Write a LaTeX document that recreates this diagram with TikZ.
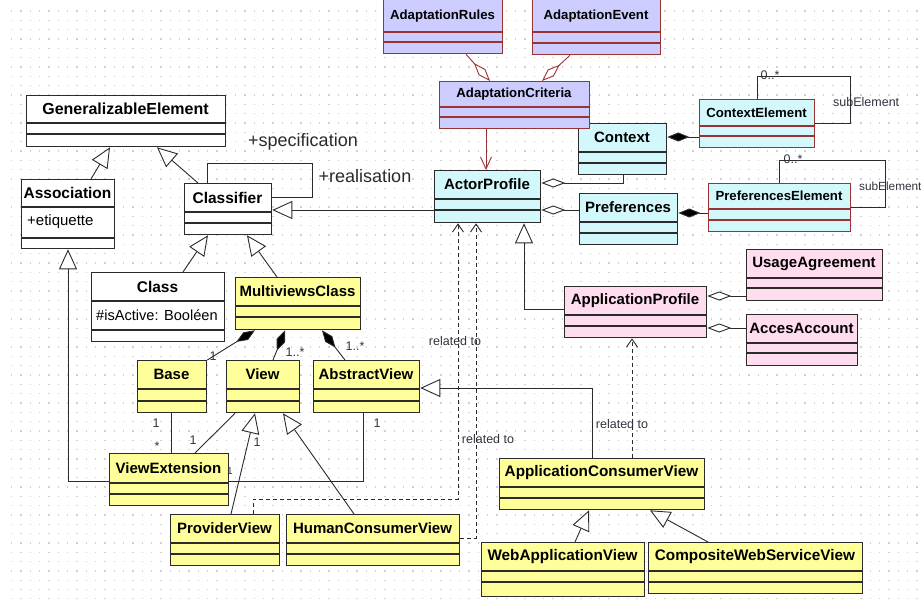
\documentclass[tikz,border=0pt]{standalone}
\usepackage{fontspec}
\setmainfont{Liberation Sans}
\usetikzlibrary{arrows.meta}

\definecolor{umlyellow}{HTML}{FFFF99}
\definecolor{umlcyan}{HTML}{D2F8FC}
\definecolor{umlpurple}{HTML}{CCCCFF}
\definecolor{umlpink}{HTML}{FFDDEE}
\definecolor{umlred}{HTML}{993333}
\definecolor{ink}{HTML}{2B2B2B}
\definecolor{labelink}{HTML}{333340}

% A class box: outer frame plus two compartment rules
% #1 style, #2 name, #3/#4 top-left, #5/#6 bottom-right, #7/#8 rule heights
\newcommand\umlclass[8][]{%
  \node[box,#1,minimum width={#5-#3},minimum height={#6-#4},anchor=north west] (#2) at (#3,#4) {};
  \draw[box,#1,fill=none] (#2.west |- 0,#7) -- (#2.east |- 0,#7)
                          (#2.west |- 0,#8) -- (#2.east |- 0,#8);
}

\begin{document}
\begin{tikzpicture}[x=1pt,y=-1pt,
  box/.style={draw=ink,line width=1.3pt,inner sep=0pt,fill=white},
  whitebox/.style={fill=white,draw=ink},
  yel/.style={fill=umlyellow,draw=ink},
  pink/.style={fill=umlpink,draw=ink},
  cyan/.style={fill=umlcyan,draw=ink},
  cyanred/.style={fill=umlcyan,draw=umlred},
  purp/.style={fill=umlpurple,draw=umlred},
  ttl/.style={inner sep=0pt,text=black,font=\bfseries\fontsize{15}{15}\selectfont},
  ttlbig/.style={ttl,font=\bfseries\fontsize{15.5}{15.5}\selectfont},
  ttlsmall/.style={ttl,font=\bfseries\fontsize{13.2}{13.2}\selectfont},
  attr/.style={inner sep=0pt,anchor=west,text=black,font=\fontsize{14.6}{14.6}\selectfont},
  lbl/.style={inner sep=0pt,text=labelink,font=\fontsize{12.5}{12.5}\selectfont},
  role/.style={inner sep=0pt,text=ink,font=\fontsize{18}{18}\selectfont},
  conn/.style={draw=ink,line width=0.9pt},
  gen/.style={conn,-{Triangle[fill=white,length=20pt,width=18pt]}},
  agg/.style={conn,-{Diamond[fill=white,length=24pt,width=9pt]}},
  comp/.style={conn,-{Diamond[fill=black,length=22pt,width=9pt]}},
  dep/.style={conn,dash pattern=on 4pt off 3pt,-{Straight Barb[length=8pt,width=11pt]}},
  redagg/.style={agg,draw=umlred},
  rednav/.style={conn,draw=umlred,-{Straight Barb[length=12pt,width=11pt]}},
  dotrow/.style={draw=black!18,line width=1.4pt,dash pattern=on 1.4pt off 7.933pt}
]
\useasboundingbox (0,0) rectangle (921,599);
\fill[white] (0,0) rectangle (921,599);

% dotted drawing grid
\foreach \k in {0,...,63}
  \draw[dotrow] (11,{11+9.333*\k}) -- (921,{11+9.333*\k});

% ---- metamodel classes
\umlclass[whitebox]{ge}{26}{95}{225}{146}{123}{134}
\umlclass[whitebox]{assoc}{21}{179}{114}{248}{207}{238}
\umlclass[whitebox]{clsf}{184}{183}{271}{234}{212}{223}
\umlclass[whitebox]{cls}{91}{272}{224}{341}{301}{330}

% ---- views
\umlclass[yel]{mvc}{235}{277}{360}{329}{306}{317}
\umlclass[yel]{base}{137}{360}{206}{412}{389}{401}
\umlclass[yel]{view}{226}{360}{299}{412}{389}{401}
\umlclass[yel]{abst}{313}{360}{419}{412}{389}{401}
\umlclass[yel]{vext}{109}{453}{228}{505}{483}{494}
\umlclass[yel]{prov}{170}{514}{279}{565}{543}{554}
\umlclass[yel]{hcv}{286}{514}{459}{565}{543}{554}
\umlclass[yel]{acv}{499}{458}{704}{509}{487}{498}
\umlclass[yel]{wav}{481}{542}{644}{596}{571}{582}
\umlclass[yel]{cwsv}{648}{542}{862}{593}{571}{582}

% ---- application profile
\umlclass[pink]{ap}{564}{286}{706}{337}{315}{326}
\umlclass[pink]{ua}{746}{249}{882}{300}{278}{288}
\umlclass[pink]{aa}{746}{314}{857}{365}{343}{353}

% ---- actor profile and context
\umlclass[cyan]{actor}{434}{170}{540}{222}{199}{210}
\umlclass[cyan]{ctx}{578}{123}{666}{174}{152}{163}
\umlclass[cyan]{pref}{579}{193}{677}{244}{222}{233}
\umlclass[cyanred]{ce}{699}{99}{814}{147}{126}{136}
\umlclass[cyanred]{pe}{708}{183}{850}{231}{209}{220}

% ---- adaptation
\umlclass[purp]{ar}{383}{-2}{502}{53}{32}{42}
\umlclass[purp]{ae}{532}{-2}{660}{54}{32}{43}
\umlclass[purp]{ac}{439}{81}{589}{128}{107}{117}

% ---- class names and attributes
\node[ttl,font=\bfseries\fontsize{16}{16}\selectfont] (ge-t) at (125.5,109) {GeneralizableElement};
\node[ttlbig] (assoc-t) at (67.5,193) {Association};
\node[attr,font=\fontsize{15}{15}\selectfont] (assoc-a) at (27,222) {+etiquette};
\node[ttlbig] (clsf-t) at (227.5,197.5) {Classifier};
\node[ttlbig] (cls-t) at (157.5,286.5) {Class};
\node[attr] (cls-a) at (96,315.5) {\#isActive: Booléen};

\node[ttl] (mvc-t) at (297.5,291.5) {MultiviewsClass};
\node[ttl] (base-t) at (171.5,374.5) {Base};
\node[ttl] (view-t) at (262.5,374.5) {View};
\node[ttl] (abst-t) at (366,374.5) {AbstractView};
\node[ttl] (vext-t) at (168.5,468) {ViewExtension};
\node[ttl] (prov-t) at (224.5,528.5) {ProviderView};
\node[ttl] (hcv-t) at (372.5,528.5) {HumanConsumerView};
\node[ttl,font=\bfseries\fontsize{15.3}{15.3}\selectfont] (acv-t) at (601.5,472.5) {ApplicationConsumerView};
\node[ttl,font=\bfseries\fontsize{15.3}{15.3}\selectfont] (wav-t) at (562.5,556.5) {WebApplicationView};
\node[ttl,font=\bfseries\fontsize{15.3}{15.3}\selectfont] (cwsv-t) at (755,556.5) {CompositeWebServiceView};

\node[ttl] (ap-t) at (635,300.5) {ApplicationProfile};
\node[ttl] (ua-t) at (814,263.5) {UsageAgreement};
\node[ttl] (aa-t) at (801.5,328.5) {AccesAccount};

\node[ttl] (actor-t) at (487,184.5) {ActorProfile};
\node[ttl] (ctx-t) at (622,137.5) {Context};
\node[ttl] (pref-t) at (628,207.5) {Preferences};
\node[ttlsmall] (ce-t) at (756.5,112.5) {ContextElement};
\node[ttlsmall] (pe-t) at (779,196) {PreferencesElement};

\node[ttlsmall] (ar-t) at (442.5,16.5) {AdaptationRules};
\node[ttlsmall] (ae-t) at (596,16.5) {AdaptationEvent};
\node[ttlsmall] (ac-t) at (514,94) {AdaptationCriteria};

% ---- bend points of the routed connectors
\coordinate (clsf-loop) at (312,163);
\coordinate (ce-loop) at (850,76);
\coordinate (pe-loop) at (885,160);
\coordinate (prov-bend) at (458,499);

% ---- generalizations
\draw[gen] (assoc.north -| 91,0) -- (ge.south -| 110,0);
\draw[gen] (clsf.north -| 198,0) -- (ge.south -| 157,0);
\draw[gen] (cls.north -| 183,0) -- (clsf.south -| 208,0);
\draw[gen] (mvc.north -| 277,0) -- (clsf.south -| 247,0);
\draw[gen] (actor.west |- 0,210) -- (clsf.east |- 0,210);
\draw[gen] (vext.west |- 0,481) -| (assoc.south -| 68,0);
\draw[gen] (prov.north -| 231,0) -- (view.south -| 255,0);
\draw[gen] (hcv.north -| 354,0) -- (view.south -| 283,0);
\draw[gen] (ap.west |- 0,309) -| (actor.south -| 524,0);
\draw[gen] (acv.north -| 592,0) |- (abst.east |- 0,388);
\draw[gen] (wav.north -| 575,0) -- (acv.south -| 589,0);
\draw[gen] (cwsv.north -| 708,0) -- (acv.south -| 650,0);

% ---- self association of Classifier
\draw[conn] (clsf.north -| 207,0) |- (clsf-loop) |- (clsf.east |- 0,197);

% ---- compositions and associations of the views
\draw[comp] (base.north east) -- (mvc.south -| 255,0);
\draw[comp] (view.north -| 273,0) -- (mvc.south -| 285,0);
\draw[comp] (abst.north -| 345,0) -- (mvc.south -| 322,0);
\draw[conn] (base.south -| 171,0) -- (vext.north -| 171,0);
\draw[conn] (view.south -| 235,0) -- (vext.north -| 195,0);
\draw[conn] (abst.south -| 363,0) |- (vext.east |- 0,481);

% ---- dependencies
\draw[dep] (prov.north -| 253,0) |- (prov-bend) -- (actor.south -| 458,0);
\draw[dep] (hcv.east |- 0,538) -| (actor.south -| 476,0);
\draw[dep] (acv.north -| 632,0) -- (ap.south -| 632,0);

% ---- aggregations
\draw[agg] (ua.west |- 0,296) -- (ap.east |- 0,296);
\draw[agg] (aa.west |- 0,328) -- (ap.east |- 0,328);
\draw[agg] (ctx.south -| 623,0) |- (actor.east |- 0,183);
\draw[agg] (pref.west |- 0,210) -- (actor.east |- 0,210);
\draw[redagg] (ar.south -| 466,0) -- (ac.north -| 490,0);
\draw[redagg] (ae.south -| 570,0) -- (ac.north -| 542,0);
\draw[rednav] (ac.south -| 486,0) -- (actor.north -| 486,0);

% ---- context and preference elements
\draw[comp] (ce.west |- 0,137) -- (ctx.east |- 0,137);
\draw[comp] (pe.west |- 0,213) -- (pref.east |- 0,213);
\draw[conn] (ce.north -| 757,0) |- (ce-loop) |- (ce.east |- 0,123);
\draw[conn] (pe.north -| 779,0) |- (pe-loop) |- (pe.east |- 0,207);

% ---- roles and multiplicities
\node[role] (r-spec) at (303,142) {+specification};
\node[role] (r-real) at (365,176) {+realisation};
\node[lbl] (m-base) at (213,356) {1};
\node[lbl] (m-view) at (295,352) {1..*};
\node[lbl] (m-abst) at (355,346) {1..*};
\node[lbl] (m-b1) at (156,423) {1};
\node[lbl] (m-b2) at (157,446) {*};
\node[lbl] (m-v1) at (193,440) {1};
\node[lbl] (m-v2) at (257,442) {1};
\node[lbl] (m-a1) at (377,423) {1};
\node[lbl,font=\fontsize{10}{10}\selectfont] (m-a2) at (230,471) {1};
\node[lbl] (d-1) at (455,341) {related to};
\node[lbl] (d-2) at (488,439) {related to};
\node[lbl] (d-3) at (622,424) {related to};
\node[lbl] (ce-m) at (770,75) {0..*};
\node[lbl] (pe-m) at (793,159) {0..*};
\node[lbl,anchor=west] (ce-r) at (833,102) {subElement};
\node[lbl,anchor=west,font=\fontsize{11.8}{11.8}\selectfont] (pe-r) at (859,186) {subElement};
\end{tikzpicture}
\end{document}
